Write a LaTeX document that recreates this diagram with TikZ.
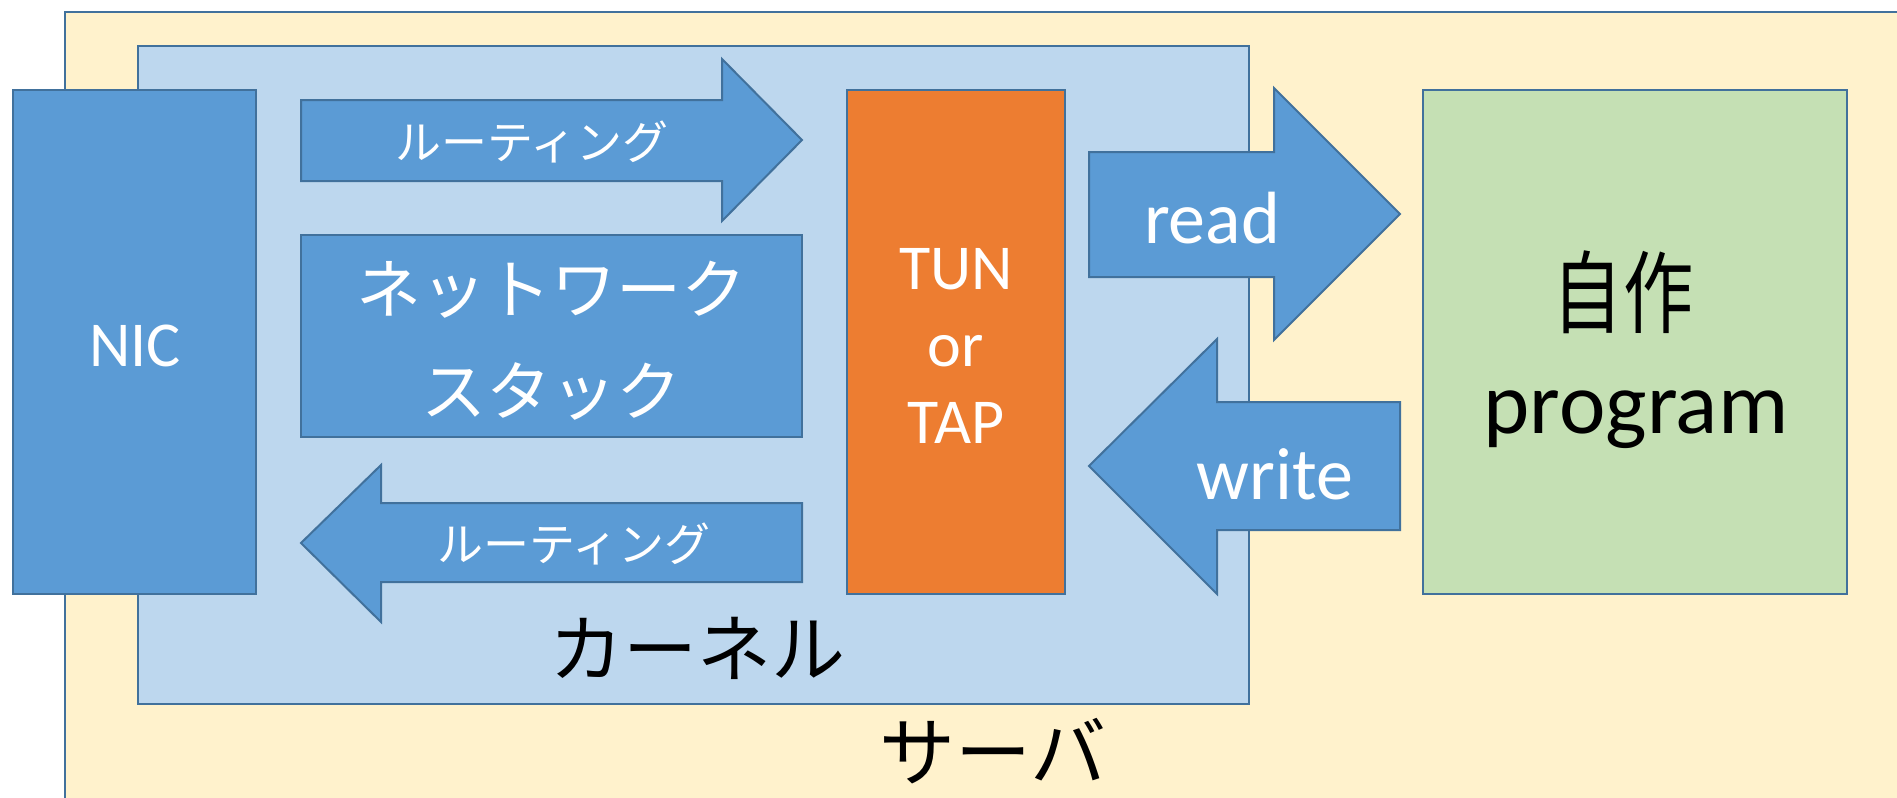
\documentclass[tikz,border=0pt]{standalone}
\usepackage{fontspec}
\setmainfont{Carlito}
\newfontfamily\jp{Noto Sans CJK JP}
\definecolor{serverfill}{HTML}{FFF2CC}
\definecolor{kernelfill}{HTML}{BDD7EE}
\definecolor{bluefill}{HTML}{5B9BD5}
\definecolor{orangefill}{HTML}{ED7D31}
\definecolor{greenfill}{HTML}{C5E0B4}
\definecolor{edge}{HTML}{41719C}
\tikzset{
  box/.style={draw=edge, line width=1pt},
  bluebox/.style={box, fill=bluefill},
  wlabel/.style={text=white, align=center, inner sep=0pt},
  klabel/.style={text=black, align=center, inner sep=0pt},
}
\begin{document}
\begin{tikzpicture}[x=0.5pt, y=-0.5pt]
\clip (0,0) rectangle (1897,798);
\useasboundingbox (0,0) rectangle (1897,798);
\fill[white] (0,0) rectangle (1897,798);
% server and kernel areas
\draw[box, fill=serverfill] (65,12) rectangle (1920,820);
\draw[box, fill=kernelfill] (138,46) rectangle (1249,704);
\node[klabel, font=\jp\fontsize{37}{40}\selectfont] (kernel) at (697,648) {カーネル};
\node[klabel, font=\jp\fontsize{38}{40}\selectfont] (server) at (993,751) {サーバ};
% NIC
\draw[bluebox] (13,90) rectangle (256,594);
\node[wlabel, font=\fontsize{32}{38}\selectfont] (nic) at (135,346) {NIC};
% routing arrows
\draw[bluebox] (301,100) -- (722,100) -- (722,59) -- (802,140) -- (722,221) -- (722,181) -- (301,181) -- cycle;
\node[wlabel, font=\jp\fontsize{23}{26}\selectfont] (routeout) at (532,142) {ルーティング};
\draw[bluebox] (301,543) -- (381,465) -- (381,503) -- (802,503) -- (802,582) -- (381,582) -- (381,622) -- cycle;
\node[wlabel, font=\jp\fontsize{23}{26}\selectfont] (routein) at (574,544) {ルーティング};
% network stack
\draw[bluebox] (301,235) rectangle (802,437);
\node[wlabel, font=\jp\fontsize{32.5}{51}\selectfont] (stack) at (551,341) {ネットワーク\\スタック};
% TUN/TAP device
\draw[box, fill=orangefill] (847,90) rectangle (1065,594);
\node[wlabel, font=\fontsize{32}{38.5}\selectfont] (tun) at (956,346) {TUN\\or\\TAP};
% read / write arrows
\draw[bluebox] (1089,152) -- (1274,152) -- (1274,88) -- (1400,214) -- (1274,340) -- (1274,277) -- (1089,277) -- cycle;
\node[wlabel, font=\fontsize{37}{40}\selectfont] (read) at (1212,218) {read};
\draw[bluebox] (1089,466) -- (1217,339) -- (1217,402) -- (1400,402) -- (1400,530) -- (1217,530) -- (1217,594) -- cycle;
\node[wlabel, font=\fontsize{37}{40}\selectfont] (write) at (1275,474) {write};
% user program
\draw[box, fill=greenfill] (1423,90) rectangle (1847,594);
\node[klabel, font=\jp\fontsize{45}{48}\selectfont, xscale=0.78] (selfmade) at (1623,292) {自作};
\node[klabel, font=\fontsize{44}{46}\selectfont] (prog) at (1636,420) {program};
\end{tikzpicture}
\end{document}
